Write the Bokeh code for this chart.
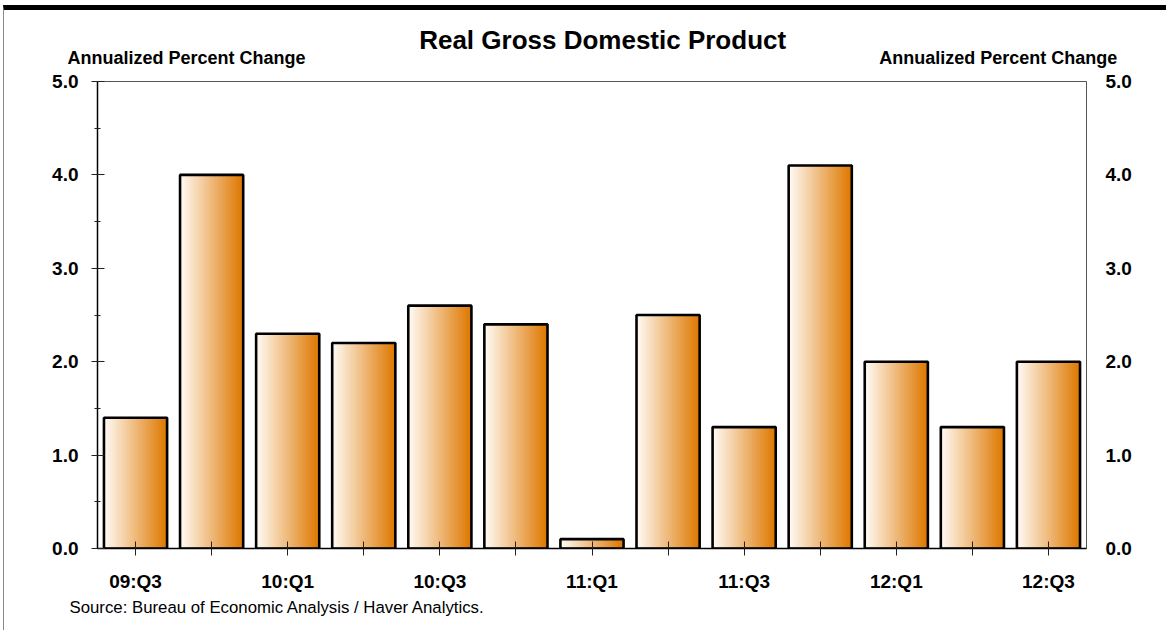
import numpy as np
from bokeh.plotting import figure
from bokeh.models import Range1d, LinearAxis, FixedTicker, Title
from bokeh.embed import file_html
from bokeh.resources import INLINE

# Quarterly real GDP growth, annualized percent change
quarters = ["09:Q3", "09:Q4", "10:Q1", "10:Q2", "10:Q3", "10:Q4", "11:Q1",
            "11:Q2", "11:Q3", "11:Q4", "12:Q1", "12:Q2", "12:Q3"]
gdp_change = [1.4, 4.0, 2.3, 2.2, 2.6, 2.4, 0.1, 2.5, 1.3, 4.1, 2.0, 1.3, 2.0]
y_ticks = [0.0, 1.0, 2.0, 3.0, 4.0, 5.0]
chart_title = "Real Gross Domestic Product"
unit_label = "Annualized Percent Change"
source_note = "Source: Bureau of Economic Analysis / Haver Analytics."

W, H = 1163, 625
p = figure(width=W, height=H, output_backend="svg", toolbar_location=None,
           x_range=Range1d(-0.5, len(quarters) - 0.5), y_range=Range1d(0, 5),
           min_border_left=93, min_border_right=81, min_border_top=71,
           min_border_bottom=87, background_fill_color="white",
           border_fill_color="white")
p.xgrid.visible = False
p.ygrid.visible = False
p.outline_line_color = "#555555"
p.outline_line_width = 1

xs = np.arange(len(quarters), dtype=float)
vals = np.array(gdp_change)
bar_w = 0.83

# horizontal white-to-orange shading: overlapping slices, each running to the
# bar's right edge so no seams show between them
n_slices = 48
c0 = np.array([255, 250, 244])
c1 = np.array([222, 120, 0])
lefts, rights, tops, colors = [], [], [], []
for xc, v in zip(xs, vals):
    for k in range(n_slices):
        t = k / (n_slices - 1)
        c = np.round(c0 + (c1 - c0) * t).astype(int)
        lefts.append(xc - bar_w / 2 + k * bar_w / n_slices)
        rights.append(xc + bar_w / 2)
        tops.append(v)
        colors.append("#%02x%02x%02x" % tuple(c))
p.quad(left=lefts, right=rights, top=tops, bottom=0, fill_color=colors,
       line_color=None)
p.vbar(x=xs, top=vals, width=bar_w, bottom=0, fill_color=None,
       line_color="black", line_width=2.6)

def bold_labels(ax, size):
    ax.major_label_text_font = "Liberation Sans"
    ax.major_label_text_font_style = "bold"
    ax.major_label_text_font_size = size
    ax.major_label_text_color = "black"

def bare(ax):
    ax.axis_line_color = None
    ax.major_tick_line_color = None
    ax.minor_tick_line_color = None
    ax.major_tick_out = 0
    ax.major_tick_in = 0

# left value axis
ly = p.yaxis[0]
ly.ticker = FixedTicker(ticks=y_ticks, minor_ticks=list(np.arange(0, 5.01, 0.5)))
ly.major_label_overrides = {t: f"{t:.1f}" for t in y_ticks}
ly.axis_line_color = "black"
ly.axis_line_width = 1.5
ly.major_tick_in = 7
ly.major_tick_out = 6
ly.minor_tick_in = 3
ly.minor_tick_out = 3
ly.major_tick_line_color = "#222222"
ly.minor_tick_line_color = "#222222"
bold_labels(ly, "19px")
ly.major_label_standoff = 13

# right value axis, labels only
ry = LinearAxis(ticker=FixedTicker(ticks=y_ticks))
ry.major_label_overrides = {t: f"{t:.1f}" for t in y_ticks}
bare(ry)
bold_labels(ry, "19px")
ry.major_label_standoff = 19
p.add_layout(ry, "right")

# quarter axis: a tick per bar, every other quarter labelled
bx = p.xaxis[0]
bx.ticker = FixedTicker(ticks=list(xs))
bx.major_label_overrides = {float(i): (q if i % 2 == 0 else "")
                            for i, q in enumerate(quarters)}
bx.axis_line_color = "black"
bx.axis_line_width = 1.5
bx.major_tick_in = 7
bx.major_tick_out = 7
bx.minor_tick_line_color = None
bx.major_tick_line_color = "#222222"
bold_labels(bx, "19px")
bx.major_label_standoff = 15

# unit captions over both value axes, carried by a tickless top axis
unit_pos = [0.67, 11.34]
tx = LinearAxis(ticker=FixedTicker(ticks=unit_pos))
tx.major_label_overrides = {u: unit_label for u in unit_pos}
bare(tx)
bold_labels(tx, "18px")
tx.major_label_standoff = 14
p.add_layout(tx, "above")

# chart heading, one more tickless axis stacked above the captions
title_pos = [6.14]
hx = LinearAxis(ticker=FixedTicker(ticks=title_pos))
hx.major_label_overrides = {title_pos[0]: chart_title}
bare(hx)
bold_labels(hx, "26px")
hx.major_label_standoff = -10
p.add_layout(hx, "above")

p.add_layout(Title(text=source_note, align="left", offset=-28,
                   text_font="Liberation Sans", text_font_style="normal",
                   text_font_size="16.8px", text_color="black", standoff=2),
             "below")

p.styles = {"border-top": "5px solid black", "border-left": "1px solid #8a8a8a",
            "margin-top": "5px", "margin-left": "3px"}

open("out.html", "w").write(file_html(p, INLINE))
